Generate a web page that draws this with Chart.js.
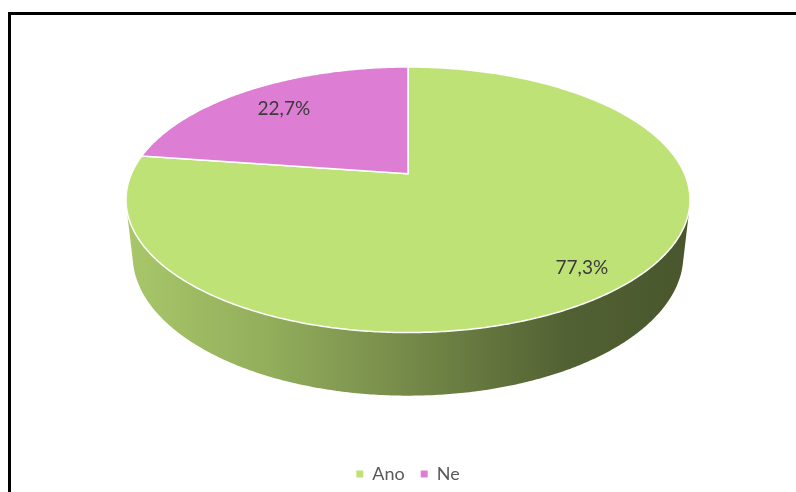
<!DOCTYPE html>
<html>
<head>
<meta charset="utf-8">
<script src="https://cdn.jsdelivr.net/npm/chart.js@4.4.1/dist/chart.umd.min.js"></script>
<style>
  html, body { margin: 0; padding: 0; background: #fff; overflow: hidden; }
  body { width: 796px; height: 492px; position: relative; }
  .frame {
    position: absolute; left: 8px; top: 12px; width: 820px; height: 520px;
    border-top: 3px solid #000; border-left: 3px solid #000; box-sizing: border-box;
  }
  .wrap { position: absolute; left: 14px; top: 15px; width: 796px; height: 478px; }
</style>
</head>
<body>
<div class="frame"></div>
<div class="wrap"><canvas id="chart"></canvas></div>
<script>
const labels = ["Ano", "Ne"]
const values = [77.3, 22.7]
const colors = ["#bfe277", "#de7dd4"]

// camera for the tilted pie: elevation in degrees, distance in radii, thickness in radii
const view = { tilt: 27.5, distance: 4.54, thickness: 0.228 }
const labelRadius = [0.85, 0.75]

function shade(hex, f) {
  const n = parseInt(hex.slice(1), 16)
  const r = Math.round(((n >> 16) & 255) * f)
  const g = Math.round(((n >> 8) & 255) * f)
  const b = Math.round((n & 255) * f)
  return `rgb(${r},${g},${b})`
}

const pie3d = {
  id: "pie3d",
  beforeDatasetsDraw(chart) {
    const { ctx, chartArea } = chart
    const meta = chart.getDatasetMeta(0)
    const sin = Math.sin(view.tilt * Math.PI / 180)
    const cos = Math.cos(view.tilt * Math.PI / 180)
    const k = cos / view.distance
    const halfW = (chartArea.right - chartArea.left) / 2
    const A = halfW * Math.sqrt(1 - k * k)
    const cx = (chartArea.left + chartArea.right) / 2
    const cy = chartArea.top + A * sin / (1 + k)
    const h = view.thickness

    // u across, v toward the viewer, y up (0 = top face)
    const project = (u, v, y) => {
      const d = 1 + (-y * sin - v * cos) / view.distance
      return [cx + A * u / d, cy + A * (v * sin - y * cos) / d]
    }

    const total = values.reduce((s, v) => s + v, 0)

    ctx.save()

    // outer wall, only the facets that face the camera
    meta.data.forEach((arc, i) => {
      const a0 = arc.startAngle, a1 = arc.endAngle
      const n = Math.max(2, Math.ceil((a1 - a0) / (Math.PI / 360)))
      const grad = ctx.createLinearGradient(cx - halfW, 0, cx + halfW, 0)
      grad.addColorStop(0, shade(colors[i], 0.88))
      grad.addColorStop(0.25, shade(colors[i], 0.77))
      grad.addColorStop(0.5, shade(colors[i], 0.61))
      grad.addColorStop(0.78, shade(colors[i], 0.43))
      grad.addColorStop(1, shade(colors[i], 0.38))
      ctx.beginPath()
      let any = false
      for (let j = 0; j < n; j++) {
        const t0 = a0 + (a1 - a0) * j / n
        const t1 = a0 + (a1 - a0) * (j + 1) / n
        const p0 = project(Math.cos(t0), Math.sin(t0), 0)
        const p1 = project(Math.cos(t1), Math.sin(t1), 0)
        const q1 = project(Math.cos(t1), Math.sin(t1), -h)
        const q0 = project(Math.cos(t0), Math.sin(t0), -h)
        const pts = [p0, p1, q1, q0]
        let area = 0
        for (let m = 0; m < 4; m++) {
          const a = pts[m], b = pts[(m + 1) % 4]
          area += a[0] * b[1] - b[0] * a[1]
        }
        if (area >= 0) continue
        any = true
        ctx.moveTo(p0[0], p0[1])
        ctx.lineTo(p1[0], p1[1])
        ctx.lineTo(q1[0], q1[1])
        ctx.lineTo(q0[0], q0[1])
        ctx.closePath()
      }
      if (any) {
        ctx.fillStyle = grad
        ctx.fill()
      }
    })

    // top faces
    const c = project(0, 0, 0)
    meta.data.forEach((arc, i) => {
      const a0 = arc.startAngle, a1 = arc.endAngle
      const n = Math.max(2, Math.ceil((a1 - a0) / (Math.PI / 360)))
      ctx.beginPath()
      ctx.moveTo(c[0], c[1])
      for (let j = 0; j <= n; j++) {
        const t = a0 + (a1 - a0) * j / n
        const p = project(Math.cos(t), Math.sin(t), 0)
        ctx.lineTo(p[0], p[1])
      }
      ctx.closePath()
      ctx.fillStyle = colors[i]
      ctx.fill()
      ctx.strokeStyle = "#ffffff"
      ctx.lineWidth = 1.5
      ctx.lineJoin = "round"
      ctx.stroke()
    })

    // percentage labels
    ctx.font = "19px Lato"
    ctx.fillStyle = "#3a3a3a"
    ctx.textAlign = "center"
    ctx.textBaseline = "middle"
    meta.data.forEach((arc, i) => {
      const mid = (arc.startAngle + arc.endAngle) / 2
      const r = labelRadius[i]
      const p = project(r * Math.cos(mid), r * Math.sin(mid), 0)
      const pct = (values[i] / total * 100).toFixed(1).replace(".", ",") + "%"
      ctx.fillText(pct, p[0] - 2, p[1])
    })

    ctx.restore()
    return false
  }
}

new Chart(document.getElementById("chart"), {
  type: "pie",
  data: {
    labels,
    datasets: [{ data: values, backgroundColor: colors, borderWidth: 0 }]
  },
  options: {
    responsive: true,
    maintainAspectRatio: false,
    animation: false,
    events: [],
    layout: { padding: { left: 112, right: 120, top: 52, bottom: 0 } },
    plugins: {
      legend: {
        position: "bottom",
        labels: {
          usePointStyle: true,
          pointStyle: "rect",
          boxWidth: 7,
          boxHeight: 7,
          padding: 16,
          color: "#595959",
          font: { family: "Lato", size: 18 }
        }
      },
      tooltip: { enabled: false }
    }
  },
  plugins: [pie3d]
})
</script>
</body>
</html>
